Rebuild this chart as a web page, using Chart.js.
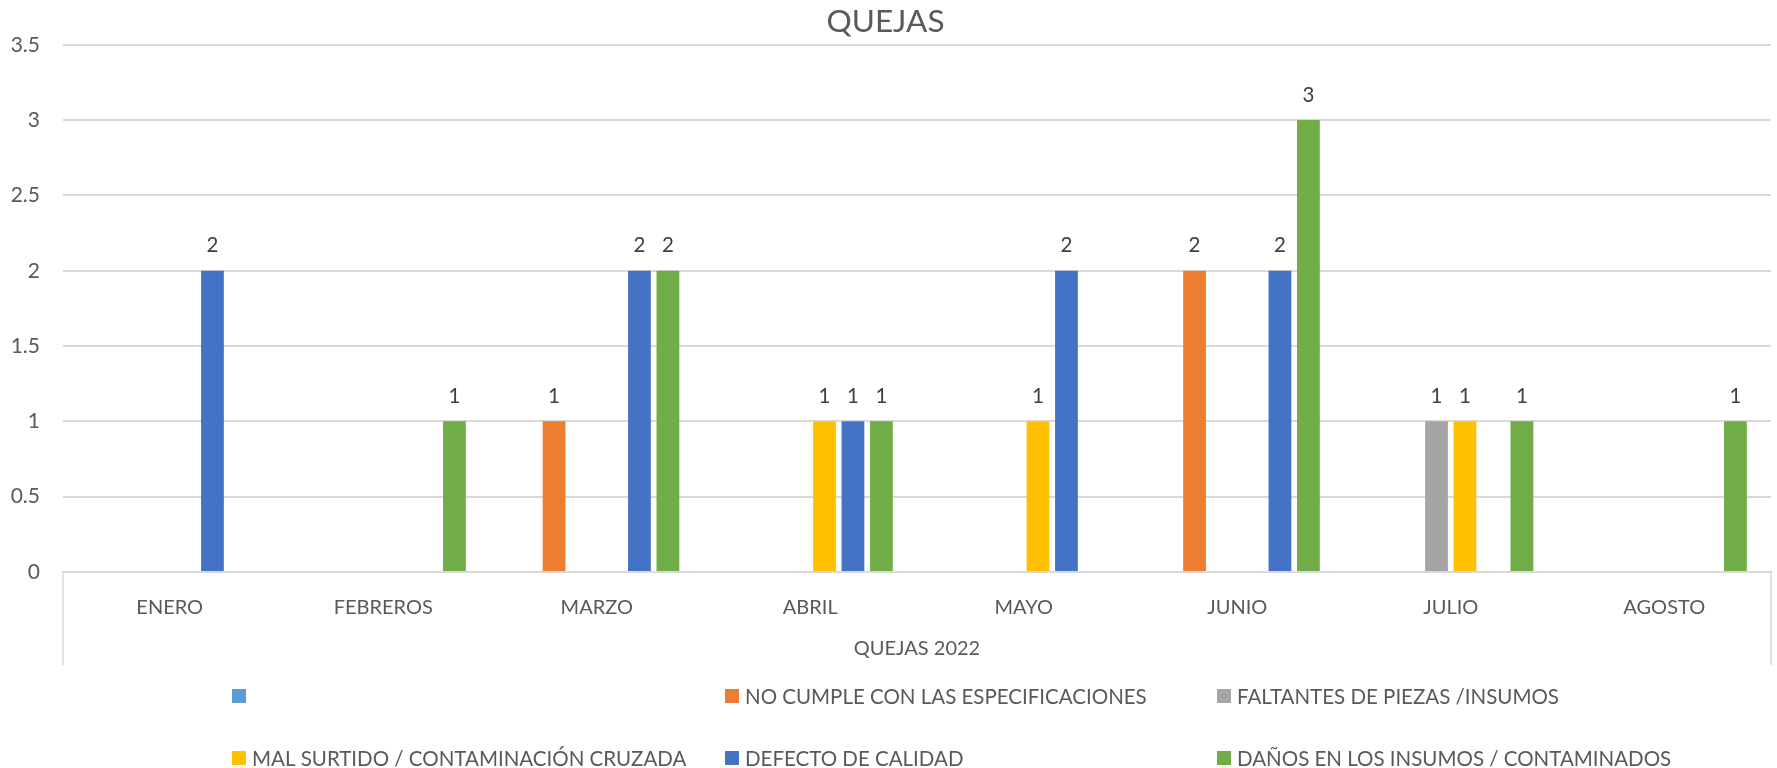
<!DOCTYPE html>
<html><head><meta charset="utf-8">
<script src="https://cdn.jsdelivr.net/npm/chart.js@4"></script>
<style>html,body{margin:0;padding:0;background:#fff;overflow:hidden}#wrap{width:1777px;height:768px}</style>
</head><body><div id="wrap"><canvas id="c" width="1777" height="768"></canvas></div>
<script>
const categories = ['ENERO','FEBREROS','MARZO','ABRIL','MAYO','JUNIO','JULIO','AGOSTO'];
const seriesNames = ['', 'NO CUMPLE CON LAS ESPECIFICACIONES', 'FALTANTES DE PIEZAS /INSUMOS', 'MAL SURTIDO / CONTAMINACIÓN CRUZADA', 'DEFECTO DE CALIDAD', 'DAÑOS EN LOS INSUMOS / CONTAMINADOS'];
const seriesColors = ['#5B9BD5','#ED7D31','#A5A5A5','#FFC000','#4472C4','#70AD47'];
const blankSeries = [null,null,null,null,null,null,null,null];
const noCumple   = [null,null,1,null,null,2,null,null];
const faltantes  = [null,null,null,null,null,null,1,null];
const malSurtido = [null,null,null,1,1,null,1,null];
const defecto    = [2,null,2,1,2,2,null,null];
const danos      = [null,1,2,1,null,3,1,1];
const yMin = 0, yMax = 3.5, yStep = 0.5;
const chartTitle = 'QUEJAS';
const xTitle = 'QUEJAS 2022';

const FONT = 'Lato, "Open Sans", sans-serif';
const TXT = '#595959';
const GRID = '#D9D9D9';

const seriesValues = [blankSeries, noCumple, faltantes, malSurtido, defecto, danos];

const dataLabels = {
  id: 'dataLabels',
  afterDatasetsDraw(chart) {
    const ctx = chart.ctx;
    ctx.save();
    ctx.font = '20.5px ' + FONT;
    ctx.fillStyle = '#404040';
    ctx.textAlign = 'center';
    ctx.textBaseline = 'middle';
    chart.data.datasets.forEach((ds, i) => {
      const meta = chart.getDatasetMeta(i);
      meta.data.forEach((el, j) => {
        const v = ds.data[j];
        if (v === null || v === undefined) return;
        ctx.fillText(String(v), el.x, el.y - 25);
      });
    });
    ctx.restore();
  }
};

const boxLines = {
  id: 'boxLines',
  afterDraw(chart) {
    const ctx = chart.ctx, x = chart.scales.x, a = chart.chartArea;
    ctx.save();
    ctx.strokeStyle = GRID;
    ctx.lineWidth = 1.5;
    ctx.beginPath();
    ctx.moveTo(a.left, a.bottom); ctx.lineTo(a.left, x.bottom);
    ctx.moveTo(a.right, a.bottom); ctx.lineTo(a.right, x.bottom);
    ctx.stroke();
    ctx.restore();
  }
};

const gridLegend = {
  id: 'gridLegend',
  afterDraw(chart) {
    const ctx = chart.ctx;
    const cols = [232, 725, 1217];
    const rows = [696, 758];
    ctx.save();
    ctx.font = '20.5px ' + FONT;
    ctx.textBaseline = 'middle';
    ctx.textAlign = 'left';
    chart.data.datasets.forEach((ds, i) => {
      const cx = cols[i % 3], cy = rows[Math.floor(i / 3)];
      ctx.fillStyle = ds.backgroundColor;
      ctx.fillRect(cx, cy - 7, 14, 14);
      ctx.fillStyle = TXT;
      ctx.fillText(ds.label, cx + 20, cy + 1);
    });
    ctx.restore();
  }
};

new Chart(document.getElementById('c'), {
  type: 'bar',
  data: {
    labels: categories,
    datasets: seriesNames.map((n, i) => ({
      label: n,
      data: seriesValues[i],
      backgroundColor: seriesColors[i],
      borderWidth: 0,
      categoryPercentage: 0.8,
      barPercentage: 0.8
    }))
  },
  options: {
    responsive: false,
    animation: false,
    devicePixelRatio: 1,
    layout: { padding: { left: 0, right: 6, top: 0, bottom: 103 } },
    plugins: {
      legend: { display: false },
      tooltip: { enabled: false },
      title: {
        display: true, text: chartTitle, color: TXT,
        font: { family: FONT, size: 31.5, weight: 'normal' },
        padding: { top: 3, bottom: 4 }
      }
    },
    scales: {
      x: {
        grid: { display: false },
        border: { display: true, color: GRID, width: 2 },
        ticks: { color: TXT, font: { family: FONT, size: 20 }, padding: 16, maxRotation: 0 },
        title: { display: true, text: xTitle, color: TXT, font: { family: FONT, size: 20 }, padding: { top: 0, bottom: 4 } },
        afterFit(s) { s.height = 93; }
      },
      y: {
        min: yMin, max: yMax,
        border: { display: false },
        grid: { color: GRID, lineWidth: 2, drawTicks: false },
        ticks: { stepSize: yStep, color: TXT, font: { family: FONT, size: 21 }, padding: 23, callback: v => String(v) },
        afterFit(s) { s.width = 63; }
      }
    }
  },
  plugins: [dataLabels, boxLines, gridLegend]
});
</script></body></html>
